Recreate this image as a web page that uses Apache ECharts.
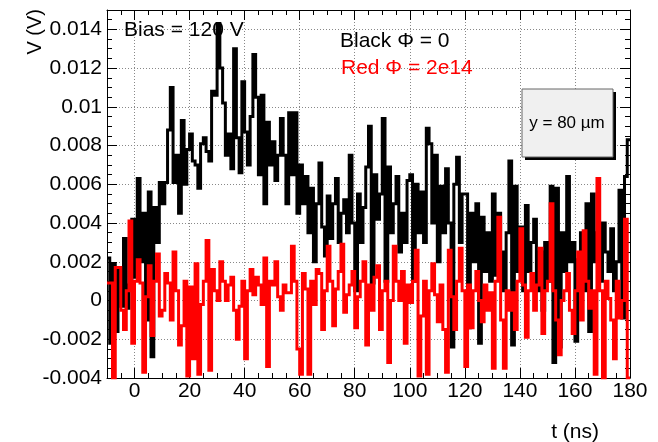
<!DOCTYPE html>
<html><head><meta charset="utf-8">
<script src="https://cdn.jsdelivr.net/npm/echarts@6/dist/echarts.min.js"></script>
<style>html,body{margin:0;padding:0;background:#fff}#c{width:658px;height:442px}</style>
</head><body><div id="c"></div>
<script>
// histogram bins: lower edge of first bin and bin width (ns)
const xStart = -10;
const binWidth = 1;

// Black: Phi = 0 (V), bins from -10 ns to 179 ns
const blackValues = [
 0.0022,-0.0022,0.0019,-0.0016,0.0017,-0.0003,0.0032,-0.0004,0.0008,0.0042,
 0.0012,0.0063,0.0020,0.0045,-0.0010,0.0056,-0.0029,0.0048,0.0030,0.0061,
 0.0050,0.0061,0.0088,0.0110,0.0061,0.0075,0.0045,0.0093,0.0060,0.0078,
 0.0086,0.0072,0.0070,0.0058,0.0081,0.0084,0.0077,0.0072,0.0108,0.0106,
 0.0143,0.0120,0.0102,0.0075,0.0086,0.0068,0.0130,0.0084,0.0066,0.0113,
 0.0087,0.0070,0.0095,0.0127,0.0105,0.0065,0.0106,0.0050,0.0092,0.0070,
 0.0082,0.0062,0.0075,0.0094,0.0075,0.0050,0.0097,0.0065,0.0097,0.0045,
 0.0070,0.0050,0.0064,0.0035,0.0058,0.0020,0.0050,0.0071,0.0038,0.0023,
 0.0054,0.0032,0.0050,0.0063,0.0030,0.0045,0.0052,0.0035,0.0075,0.0040,
 0.0005,0.0055,0.0030,0.0048,0.0069,0.0090,0.0009,0.0065,0.0042,0.0055,
 0.0094,0.0010,0.0069,0.0035,0.0050,0.0064,0.0025,0.0045,0.0030,0.0062,
 0.0065,0.0010,0.0060,0.0035,0.0056,0.0030,0.0089,0.0081,0.0040,0.0075,
 0.0020,0.0059,0.0035,0.0068,0.0040,-0.0024,0.0060,0.0074,0.0030,0.0055,
 0.0055,-0.0014,0.0045,0.0020,0.0050,-0.0022,0.0043,0.0015,0.0035,0.0010,
 0.0055,0.0013,0.0045,0.0025,0.0005,0.0035,0.0072,-0.0023,0.0059,0.0015,
 0.0038,0.0005,0.0049,0.0015,0.0030,0.0042,0.0005,0.0025,-0.0005,0.0030,
 0.0010,0.0059,-0.0032,0.0058,-0.0024,0.0035,0.0015,0.0064,0.0020,0.0030,
 -0.0021,0.0021,0.0035,0.0005,0.0050,-0.0016,0.0055,0.0020,0.0035,0.0010,
 0.0040,0.0025,0.0015,0.0037,0.0005,0.0020,0.0057,-0.0009,0.0064,0.0083
];

// Red: Phi = 2e14 (V), bins from -10 ns to 179 ns
const redValues = [
 0.0009,0.0009,-0.0040,0.0017,0.0017,-0.0005,-0.0015,0.0005,0.0041,-0.0022,
 0.0010,0.0021,0.0009,-0.0037,0.0002,0.0018,-0.0018,0.0010,0.0024,-0.0008,
 -0.0005,0.0014,0.0009,-0.0010,0.0025,0.0005,-0.0023,-0.0013,0.0010,-0.0039,
 0.0007,-0.0030,0.0019,-0.0038,-0.0002,0.0010,0.0031,-0.0036,0.0016,0.0005,
 0.0000,0.0020,0.0010,0.0000,0.0008,0.0012,-0.0005,-0.0020,-0.0003,0.0010,
 -0.0030,0.0005,0.0016,0.0003,0.0012,0.0008,-0.0002,0.0022,-0.0034,0.0010,
 0.0008,0.0020,0.0002,-0.0005,0.0008,0.0004,0.0004,0.0028,0.0010,-0.0025,
 -0.0038,0.0014,0.0006,-0.0038,0.0010,-0.0002,0.0016,0.0014,-0.0015,0.0005,
 0.0028,0.0010,-0.0013,0.0006,0.0015,0.0029,-0.0006,0.0003,0.0008,0.0015,
 -0.0014,0.0002,0.0010,0.0020,-0.0023,0.0008,-0.0005,0.0012,0.0018,-0.0015,
 0.0005,0.0010,-0.0032,0.0000,0.0028,0.0010,0.0000,0.0015,-0.0022,0.0008,
 -0.0001,0.0010,0.0026,-0.0039,-0.0008,0.0010,-0.0038,0.0005,0.0019,0.0003,
 -0.0011,0.0008,-0.0015,-0.0037,0.0026,0.0002,-0.0015,0.0010,0.0027,0.0005,
 -0.0034,0.0008,-0.0014,0.0005,0.0015,0.0000,-0.0011,0.0008,-0.0005,0.0004,
 -0.0035,0.0010,0.0043,-0.0010,-0.0035,0.0005,-0.0005,0.0004,-0.0015,0.0010,
 0.0037,0.0008,-0.0019,0.0005,0.0014,-0.0005,0.0008,0.0027,-0.0017,0.0005,
 0.0010,0.0050,0.0005,-0.0010,-0.0028,0.0000,0.0005,0.0014,-0.0005,-0.0017,
 0.0005,0.0025,-0.0010,0.0036,0.0010,-0.0004,0.0005,-0.0038,0.0063,0.0005,
 -0.0040,0.0010,0.0001,-0.0010,-0.0030,0.0010,-0.0009,0.0000,0.0042,-0.0040
];

const xTickValues = [0,20,40,60,80,100,120,140,160,180];
const yTickValues = [-0.004,-0.002,0,0.002,0.004,0.006,0.008,0.01,0.012,0.014];
const texts = {
  bias: 'Bias = 120 V',
  black: 'Black \u03A6 = 0',
  red: 'Red \u03A6 = 2e14',
  box: 'y = 80 \u00B5m',
  xTitle: 't (ns)',
  yTitle: 'V (V)'
};

function toSteps(vals) {
  const d = vals.map((v, i) => [xStart + i * binWidth, v]);
  d.push([xStart + vals.length * binWidth, vals[vals.length - 1]]);
  return d;
}

const F = "'Liberation Sans', Arial, Helvetica, sans-serif";
const chart = echarts.init(document.getElementById('c'), null, {renderer: 'canvas'});

const tickCommon = {
  axisLine: {show: true, onZero: false, lineStyle: {color: '#000', width: 1}},
  axisTick: {show: true, inside: true, length: 10, lineStyle: {color: '#000', width: 1}},
  minorTick: {show: true, splitNumber: 4, length: 5, lineStyle: {color: '#000', width: 1}}
};

function xLabel(v) {
  return xTickValues.some(t => Math.abs(t - v) < 1e-6) ? String(v) : '';
}
function yLabel(v) {
  const t = yTickValues.find(t => Math.abs(t - v) < 1e-9);
  return t === undefined ? '' : String(+t.toFixed(3));
}

chart.setOption({
  animation: false,
  backgroundColor: '#fff',
  grid: {left: 107, right: 28, top: 10, bottom: 64, containLabel: false},
  xAxis: [
    Object.assign({
      type: 'value', min: -10, max: 180, splitNumber: 10, position: 'bottom',
      axisLabel: {show: true, formatter: xLabel, color: '#000', fontSize: 21, fontFamily: F, margin: 3, hideOverlap: false},
      splitLine: {show: true, lineStyle: {color: '#888', type: [1, 2], width: 1}}
    }, tickCommon),
    Object.assign({
      type: 'value', min: -10, max: 180, splitNumber: 10, position: 'top',
      axisLabel: {show: false}, splitLine: {show: false}
    }, tickCommon)
  ],
  yAxis: [
    Object.assign({
      type: 'value', min: -0.004, max: 0.015, interval: 0.002, position: 'left',
      axisLabel: {show: true, formatter: yLabel, color: '#000', fontSize: 21, fontFamily: F, margin: 5, hideOverlap: false},
      splitLine: {show: true, lineStyle: {color: '#888', type: [1, 2], width: 1}}
    }, tickCommon),
    Object.assign({
      type: 'value', min: -0.004, max: 0.015, interval: 0.002, position: 'right',
      axisLabel: {show: false}, splitLine: {show: false}
    }, tickCommon)
  ],
  series: [
    {type: 'line', name: 'black', step: 'end', data: toSteps(blackValues), xAxisIndex: 0, yAxisIndex: 0,
     showSymbol: false, symbol: 'none', clip: true, lineStyle: {color: '#000', width: 3, join: 'miter'}, z: 2},
    {type: 'line', name: 'red', step: 'end', data: toSteps(redValues), xAxisIndex: 0, yAxisIndex: 0,
     showSymbol: false, symbol: 'none', clip: true, lineStyle: {color: '#ff0000', width: 3, join: 'miter'}, z: 3}
  ],
  graphic: [
    {type: 'text', x: 35, y: 9, rotation: Math.PI / 2, z: 10,
     style: {text: texts.yTitle, font: '20px ' + F, fill: '#000', align: 'right', verticalAlign: 'middle'}},
    {type: 'text', x: 599, y: 432, z: 10,
     style: {text: texts.xTitle, font: '21px ' + F, fill: '#000', align: 'right', verticalAlign: 'middle'}},
    {type: 'text', x: 124, y: 30, z: 10,
     style: {text: texts.bias, font: '21px ' + F, fill: '#000', align: 'left', verticalAlign: 'middle'}},
    {type: 'text', x: 340, y: 41, z: 10,
     style: {text: texts.black, font: '21px ' + F, fill: '#000', align: 'left', verticalAlign: 'middle'}},
    {type: 'text', x: 341, y: 68, z: 10,
     style: {text: texts.red, font: '21px ' + F, fill: '#ff0000', align: 'left', verticalAlign: 'middle'}},
    {type: 'rect', shape: {x: 525, y: 92, width: 91, height: 68}, z: 10, style: {fill: '#000'}},
    {type: 'rect', shape: {x: 522, y: 89, width: 91, height: 68}, z: 11, style: {fill: '#f0f0f0', stroke: '#666', lineWidth: 1}},
    {type: 'text', x: 567, y: 123, z: 12,
     style: {text: texts.box, font: '17px ' + F, fill: '#000', align: 'center', verticalAlign: 'middle'}}
  ]
});
</script>
</body></html>
